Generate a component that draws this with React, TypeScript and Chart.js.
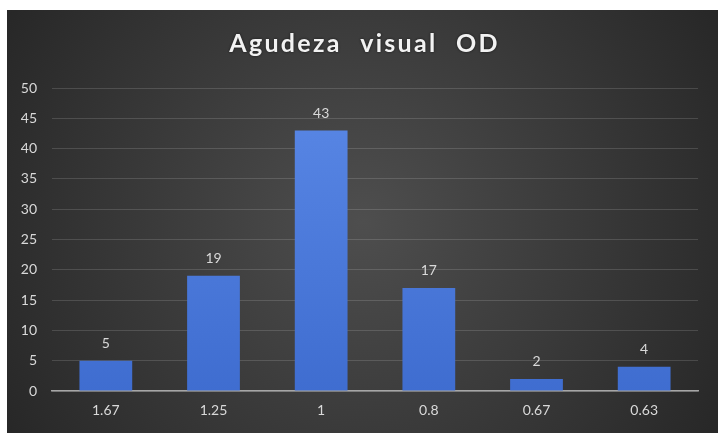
import React, { useEffect, useRef } from "react";
import { Chart, registerables } from "chart.js";

Chart.register(...registerables);

const categories = ["1.67", "1.25", "1", "0.8", "0.67", "0.63"];
const values = [5, 19, 43, 17, 2, 4];
const yTicks = [0, 5, 10, 15, 20, 25, 30, 35, 40, 45, 50];
const titleText = "Agudeza visual OD";

const FONT = "Lato, 'Open Sans', sans-serif";

const bgPlugin = {
  id: "bgPlugin",
  beforeDraw(chart: any) {
    const { ctx, width, height } = chart;
    ctx.save();
    const g = ctx.createRadialGradient(width / 2, height / 2, 0, width / 2, height / 2, width * 0.6);
    g.addColorStop(0, "#4e4e4e");
    g.addColorStop(1, "#262626");
    ctx.fillStyle = g;
    ctx.fillRect(0, 0, width, height);
    // title
    ctx.fillStyle = "#f2f2f2";
    ctx.font = `bold 25px ${FONT}`;
    (ctx as any).letterSpacing = "2.3px";
    (ctx as any).wordSpacing = "10px";
    ctx.textAlign = "center";
    ctx.textBaseline = "middle";
    ctx.shadowColor = "rgba(0,0,0,0.6)";
    ctx.shadowBlur = 3;
    ctx.fillText(titleText, width / 2 + 2, 34);
    ctx.restore();
  },
};

const labelPlugin = {
  id: "labelPlugin",
  afterDatasetsDraw(chart: any) {
    const { ctx } = chart;
    const meta = chart.getDatasetMeta(0);
    ctx.save();
    ctx.fillStyle = "#d9d9d9";
    ctx.font = `14px ${FONT}`;
    ctx.textAlign = "center";
    ctx.textBaseline = "middle";
    meta.data.forEach((bar: any, i: number) => {
      ctx.fillText(String(values[i]), bar.x, bar.y - 17);
    });
    ctx.restore();
  },
};

export default function App() {
  const ref = useRef<HTMLCanvasElement>(null);
  useEffect(() => {
    const canvas = ref.current!;
    const chart = new Chart(canvas, {
      type: "bar",
      data: {
        labels: categories,
        datasets: [
          {
            data: values,
            backgroundColor: (c: any) => {
              const area = c.chart.chartArea;
              if (!area) return "#4472c4";
              const g = c.chart.ctx.createLinearGradient(0, area.top, 0, area.bottom);
              g.addColorStop(0, "#5a88e6");
              g.addColorStop(1, "#3f6dd0");
              return g;
            },
            borderWidth: 0,
            barPercentage: 0.49,
            categoryPercentage: 1,
          },
        ],
      },
      options: {
        responsive: false,
        animation: false,
        devicePixelRatio: 1,
        layout: { padding: { top: 78, right: 20, left: 0, bottom: 0 } },
        plugins: { legend: { display: false }, title: { display: false }, tooltip: { enabled: false } },
        scales: {
          x: {
            grid: { display: false, drawTicks: false },
            border: { display: true, color: "#a6a6a6", width: 1.5 },
            ticks: { color: "#d9d9d9", font: { family: FONT, size: 14 }, padding: 11 },
            afterFit: (s: any) => {
              s.height = 42;
            },
          },
          y: {
            min: 0,
            max: 50,
            afterBuildTicks: (s: any) => {
              s.ticks = yTicks.map((v) => ({ value: v }));
            },
            grid: { color: "rgba(255,255,255,0.14)", drawTicks: false },
            border: { display: false },
            ticks: { color: "#d9d9d9", font: { family: FONT, size: 14 }, padding: 15 },
            afterFit: (s: any) => {
              s.width = 45;
            },
          },
        },
      },
      plugins: [bgPlugin, labelPlugin],
    } as any);
    return () => chart.destroy();
  }, []);
  return (
    <div style={{ position: "fixed", left: 7, top: 10, width: 711, height: 423 }}>
      <canvas ref={ref} width={711} height={423} style={{ display: "block" }} />
    </div>
  );
}
